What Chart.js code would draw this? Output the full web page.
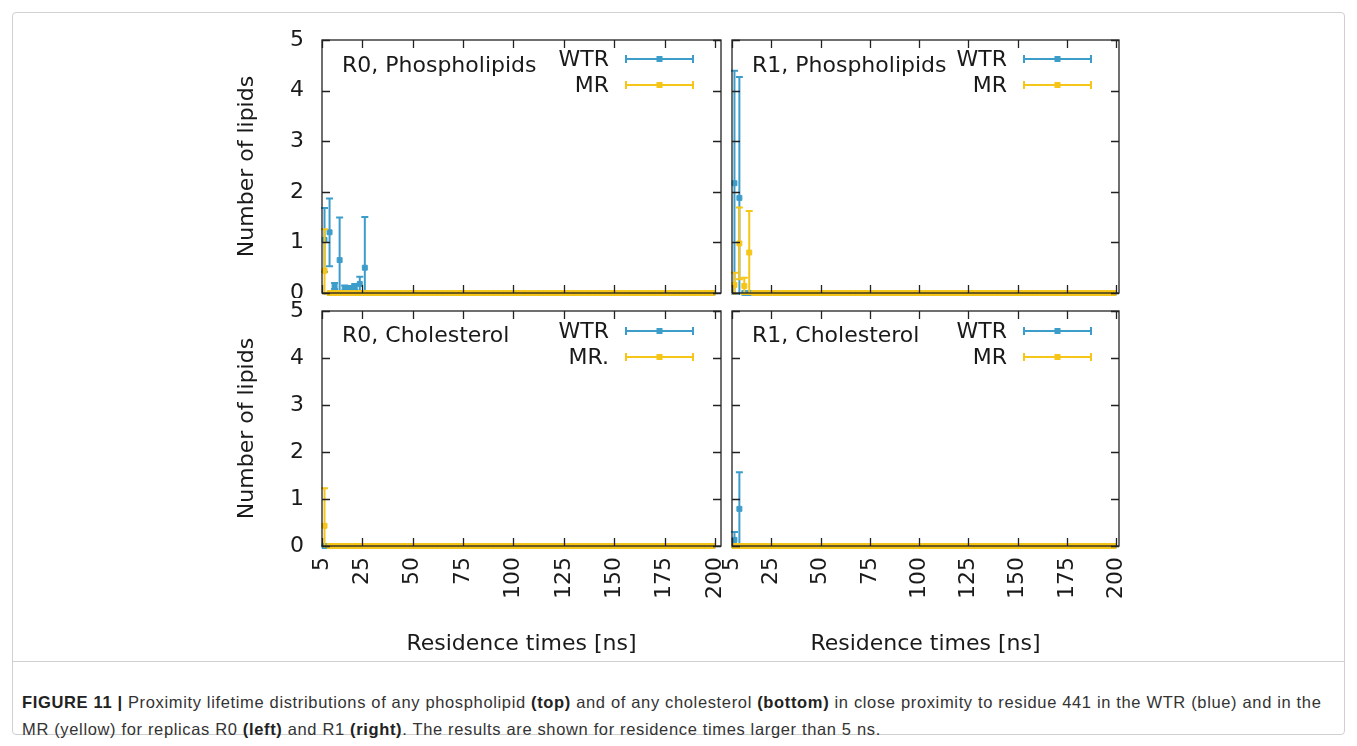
<!DOCTYPE html>
<html>
<head>
<meta charset="utf-8">
<script src="https://cdn.jsdelivr.net/npm/chart.js@4.4.0/dist/chart.umd.min.js"></script>
<style>
  html, body { margin: 0; padding: 0; background: #fff; }
  body { width: 1357px; height: 746px; position: relative; overflow: hidden; }
  #frame { position: absolute; left: 12px; top: 12px; width: 1331px; height: 721px; border: 1px solid #d0d0d0; border-radius: 4px; }
  #sep { position: absolute; left: 13px; top: 661px; width: 1331px; height: 1px; background: #d0d0d0; }
  canvas { position: absolute; }
  #caption { position: absolute; left: 22px; top: 689px; font-family: 'Liberation Sans', Arial, sans-serif; font-size: 16.5px; letter-spacing: 0.65px; line-height: 27px; color: #333; white-space: nowrap; }
  #caption b { color: #222; }
</style>
</head>
<body>
<div id="frame"></div>
<div id="sep"></div>
<canvas id="tl" width="494" height="272" style="left:232px;top:26px"></canvas>
<canvas id="tr" width="408" height="272" style="left:716px;top:26px"></canvas>
<canvas id="bl" width="494" height="363" style="left:232px;top:297px"></canvas>
<canvas id="br" width="408" height="363" style="left:716px;top:297px"></canvas>
<div id="caption"><b>FIGURE 11 |</b> Proximity lifetime distributions of any phospholipid <b>(top)</b> and of any cholesterol <b>(bottom)</b> in close proximity to residue 441 in the WTR (blue) and in the<br>MR (yellow) for replicas R0 <b>(left)</b> and R1 <b>(right)</b>. The results are shown for residence times larger than 5 ns.</div>
<script>
// ===== data =====

const xTickValues = [5, 25, 50, 75, 100, 125, 150, 175, 200];
const xTickLabels = ['5', '25', '50', '75', '100', '125', '150', '175', '200'];
const yTickValues = [0, 1, 2, 3, 4, 5];

// residence time bins [ns]
const times = [
  6.25, 8.75, 11.25, 13.75, 16.25, 18.75, 21.25, 23.75, 26.25, 28.75, 31.25, 33.75, 36.25,
  38.75, 41.25, 43.75, 46.25, 48.75, 51.25, 53.75, 56.25, 58.75, 61.25, 63.75, 66.25, 68.75,
  71.25, 73.75, 76.25, 78.75, 81.25, 83.75, 86.25, 88.75, 91.25, 93.75, 96.25, 98.75, 101.25,
  103.75, 106.25, 108.75, 111.25, 113.75, 116.25, 118.75, 121.25, 123.75, 126.25, 128.75, 131.25, 133.75,
  136.25, 138.75, 141.25, 143.75, 146.25, 148.75, 151.25, 153.75, 156.25, 158.75, 161.25, 163.75, 166.25,
  168.75, 171.25, 173.75, 176.25, 178.75, 181.25, 183.75, 186.25, 188.75, 191.25, 193.75, 196.25, 198.75
];

// R0, phospholipids
const r0PhosWTR = [
  1.05, 1.2, 0.14, 0.65, 0.1, 0.1, 0.12, 0.18, 0.5, 0, 0, 0, 0,
  0, 0, 0, 0, 0, 0, 0, 0, 0, 0, 0, 0, 0,
  0, 0, 0, 0, 0, 0, 0, 0, 0, 0, 0, 0, 0,
  0, 0, 0, 0, 0, 0, 0, 0, 0, 0, 0, 0, 0,
  0, 0, 0, 0, 0, 0, 0, 0, 0, 0, 0, 0, 0,
  0, 0, 0, 0, 0, 0, 0, 0, 0, 0, 0, 0, 0
];
const r0PhosWTRErr = [
  0.63, 0.67, 0.06, 0.84, 0.05, 0.04, 0.06, 0.14, 1.0, 0, 0, 0, 0,
  0, 0, 0, 0, 0, 0, 0, 0, 0, 0, 0, 0, 0,
  0, 0, 0, 0, 0, 0, 0, 0, 0, 0, 0, 0, 0,
  0, 0, 0, 0, 0, 0, 0, 0, 0, 0, 0, 0, 0,
  0, 0, 0, 0, 0, 0, 0, 0, 0, 0, 0, 0, 0,
  0, 0, 0, 0, 0, 0, 0, 0, 0, 0, 0, 0, 0
];
const r0PhosMR = [
  0.44, 0, 0, 0, 0, 0, 0, 0, 0, 0, 0, 0, 0,
  0, 0, 0, 0, 0, 0, 0, 0, 0, 0, 0, 0, 0,
  0, 0, 0, 0, 0, 0, 0, 0, 0, 0, 0, 0, 0,
  0, 0, 0, 0, 0, 0, 0, 0, 0, 0, 0, 0, 0,
  0, 0, 0, 0, 0, 0, 0, 0, 0, 0, 0, 0, 0,
  0, 0, 0, 0, 0, 0, 0, 0, 0, 0, 0, 0, 0
];
const r0PhosMRErr = [
  0.82, 0, 0, 0, 0, 0, 0, 0, 0, 0, 0, 0, 0,
  0, 0, 0, 0, 0, 0, 0, 0, 0, 0, 0, 0, 0,
  0, 0, 0, 0, 0, 0, 0, 0, 0, 0, 0, 0, 0,
  0, 0, 0, 0, 0, 0, 0, 0, 0, 0, 0, 0, 0,
  0, 0, 0, 0, 0, 0, 0, 0, 0, 0, 0, 0, 0,
  0, 0, 0, 0, 0, 0, 0, 0, 0, 0, 0, 0, 0
];

// R1, phospholipids
const r1PhosWTR = [
  2.17, 1.88, 0, 0, 0, 0, 0, 0, 0, 0, 0, 0, 0,
  0, 0, 0, 0, 0, 0, 0, 0, 0, 0, 0, 0, 0,
  0, 0, 0, 0, 0, 0, 0, 0, 0, 0, 0, 0, 0,
  0, 0, 0, 0, 0, 0, 0, 0, 0, 0, 0, 0, 0,
  0, 0, 0, 0, 0, 0, 0, 0, 0, 0, 0, 0, 0,
  0, 0, 0, 0, 0, 0, 0, 0, 0, 0, 0, 0, 0
];
const r1PhosWTRErr = [
  2.22, 2.39, 0, 0, 0, 0, 0, 0, 0, 0, 0, 0, 0,
  0, 0, 0, 0, 0, 0, 0, 0, 0, 0, 0, 0, 0,
  0, 0, 0, 0, 0, 0, 0, 0, 0, 0, 0, 0, 0,
  0, 0, 0, 0, 0, 0, 0, 0, 0, 0, 0, 0, 0,
  0, 0, 0, 0, 0, 0, 0, 0, 0, 0, 0, 0, 0,
  0, 0, 0, 0, 0, 0, 0, 0, 0, 0, 0, 0, 0
];
const r1PhosMR = [
  0.16, 0.98, 0.14, 0.8, 0, 0, 0, 0, 0, 0, 0, 0, 0,
  0, 0, 0, 0, 0, 0, 0, 0, 0, 0, 0, 0, 0,
  0, 0, 0, 0, 0, 0, 0, 0, 0, 0, 0, 0, 0,
  0, 0, 0, 0, 0, 0, 0, 0, 0, 0, 0, 0, 0,
  0, 0, 0, 0, 0, 0, 0, 0, 0, 0, 0, 0, 0,
  0, 0, 0, 0, 0, 0, 0, 0, 0, 0, 0, 0, 0
];
const r1PhosMRErr = [
  0.24, 0.71, 0.16, 0.82, 0, 0, 0, 0, 0, 0, 0, 0, 0,
  0, 0, 0, 0, 0, 0, 0, 0, 0, 0, 0, 0, 0,
  0, 0, 0, 0, 0, 0, 0, 0, 0, 0, 0, 0, 0,
  0, 0, 0, 0, 0, 0, 0, 0, 0, 0, 0, 0, 0,
  0, 0, 0, 0, 0, 0, 0, 0, 0, 0, 0, 0, 0,
  0, 0, 0, 0, 0, 0, 0, 0, 0, 0, 0, 0, 0
];

// R0, cholesterol
const r0CholWTR = [
  0, 0, 0, 0, 0, 0, 0, 0, 0, 0, 0, 0, 0,
  0, 0, 0, 0, 0, 0, 0, 0, 0, 0, 0, 0, 0,
  0, 0, 0, 0, 0, 0, 0, 0, 0, 0, 0, 0, 0,
  0, 0, 0, 0, 0, 0, 0, 0, 0, 0, 0, 0, 0,
  0, 0, 0, 0, 0, 0, 0, 0, 0, 0, 0, 0, 0,
  0, 0, 0, 0, 0, 0, 0, 0, 0, 0, 0, 0, 0
];
const r0CholWTRErr = [
  0, 0, 0, 0, 0, 0, 0, 0, 0, 0, 0, 0, 0,
  0, 0, 0, 0, 0, 0, 0, 0, 0, 0, 0, 0, 0,
  0, 0, 0, 0, 0, 0, 0, 0, 0, 0, 0, 0, 0,
  0, 0, 0, 0, 0, 0, 0, 0, 0, 0, 0, 0, 0,
  0, 0, 0, 0, 0, 0, 0, 0, 0, 0, 0, 0, 0,
  0, 0, 0, 0, 0, 0, 0, 0, 0, 0, 0, 0, 0
];
const r0CholMR = [
  0.43, 0, 0, 0, 0, 0, 0, 0, 0, 0, 0, 0, 0,
  0, 0, 0, 0, 0, 0, 0, 0, 0, 0, 0, 0, 0,
  0, 0, 0, 0, 0, 0, 0, 0, 0, 0, 0, 0, 0,
  0, 0, 0, 0, 0, 0, 0, 0, 0, 0, 0, 0, 0,
  0, 0, 0, 0, 0, 0, 0, 0, 0, 0, 0, 0, 0,
  0, 0, 0, 0, 0, 0, 0, 0, 0, 0, 0, 0, 0
];
const r0CholMRErr = [
  0.8, 0, 0, 0, 0, 0, 0, 0, 0, 0, 0, 0, 0,
  0, 0, 0, 0, 0, 0, 0, 0, 0, 0, 0, 0, 0,
  0, 0, 0, 0, 0, 0, 0, 0, 0, 0, 0, 0, 0,
  0, 0, 0, 0, 0, 0, 0, 0, 0, 0, 0, 0, 0,
  0, 0, 0, 0, 0, 0, 0, 0, 0, 0, 0, 0, 0,
  0, 0, 0, 0, 0, 0, 0, 0, 0, 0, 0, 0, 0
];

// R1, cholesterol
const r1CholWTR = [
  0.13, 0.79, 0, 0, 0, 0, 0, 0, 0, 0, 0, 0, 0,
  0, 0, 0, 0, 0, 0, 0, 0, 0, 0, 0, 0, 0,
  0, 0, 0, 0, 0, 0, 0, 0, 0, 0, 0, 0, 0,
  0, 0, 0, 0, 0, 0, 0, 0, 0, 0, 0, 0, 0,
  0, 0, 0, 0, 0, 0, 0, 0, 0, 0, 0, 0, 0,
  0, 0, 0, 0, 0, 0, 0, 0, 0, 0, 0, 0, 0
];
const r1CholWTRErr = [
  0.17, 0.78, 0, 0, 0, 0, 0, 0, 0, 0, 0, 0, 0,
  0, 0, 0, 0, 0, 0, 0, 0, 0, 0, 0, 0, 0,
  0, 0, 0, 0, 0, 0, 0, 0, 0, 0, 0, 0, 0,
  0, 0, 0, 0, 0, 0, 0, 0, 0, 0, 0, 0, 0,
  0, 0, 0, 0, 0, 0, 0, 0, 0, 0, 0, 0, 0,
  0, 0, 0, 0, 0, 0, 0, 0, 0, 0, 0, 0, 0
];
const r1CholMR = [
  0, 0, 0, 0, 0, 0, 0, 0, 0, 0, 0, 0, 0,
  0, 0, 0, 0, 0, 0, 0, 0, 0, 0, 0, 0, 0,
  0, 0, 0, 0, 0, 0, 0, 0, 0, 0, 0, 0, 0,
  0, 0, 0, 0, 0, 0, 0, 0, 0, 0, 0, 0, 0,
  0, 0, 0, 0, 0, 0, 0, 0, 0, 0, 0, 0, 0,
  0, 0, 0, 0, 0, 0, 0, 0, 0, 0, 0, 0, 0
];
const r1CholMRErr = [
  0, 0, 0, 0, 0, 0, 0, 0, 0, 0, 0, 0, 0,
  0, 0, 0, 0, 0, 0, 0, 0, 0, 0, 0, 0, 0,
  0, 0, 0, 0, 0, 0, 0, 0, 0, 0, 0, 0, 0,
  0, 0, 0, 0, 0, 0, 0, 0, 0, 0, 0, 0, 0,
  0, 0, 0, 0, 0, 0, 0, 0, 0, 0, 0, 0, 0,
  0, 0, 0, 0, 0, 0, 0, 0, 0, 0, 0, 0, 0
];

// ===== look =====

const BLUE = '#3d9dca';
const YELLOW = '#f5c518';
const INK = '#1a1a1a';
const FONT = { family: 'DejaVu Sans', size: 22 };
const FONT_CSS = '22px "DejaVu Sans"';

// gnuplot style: y error bars with end caps, clipped to the plot box
const errorBars = {
  id: 'errorBars',
  beforeDatasetDraw(chart, args) {
    const ds = chart.data.datasets[args.index];
    if (!ds.errors) return;
    const { ctx, chartArea: a, scales: { x, y } } = chart;
    ctx.save();
    ctx.beginPath();
    ctx.rect(a.left - 4, a.top - 1, a.right - a.left + 8, a.bottom - a.top + 3);
    ctx.clip();
    ctx.strokeStyle = ds.borderColor;
    ctx.lineWidth = 2;
    ds.data.forEach((p, i) => {
      const e = ds.errors[i];
      const px = x.getPixelForValue(p.x);
      const lo = y.getPixelForValue(p.y - e);
      const hi = y.getPixelForValue(p.y + e);
      ctx.beginPath();
      ctx.moveTo(px, lo); ctx.lineTo(px, hi);
      ctx.moveTo(px - 3.5, lo); ctx.lineTo(px + 3.5, lo);
      ctx.moveTo(px - 3.5, hi); ctx.lineTo(px + 3.5, hi);
      ctx.stroke();
    });
    ctx.restore();
  }
};

// plot box with inward ticks on every side, drawn over the data
const frame = {
  id: 'frame',
  afterDatasetsDraw(chart) {
    const { ctx, chartArea: a, scales: { x, y } } = chart;
    ctx.save();
    ctx.strokeStyle = '#222';
    ctx.lineWidth = 1.3;
    ctx.strokeRect(a.left, a.top, a.right - a.left, a.bottom - a.top);
    ctx.beginPath();
    xTickValues.forEach(v => {
      const px = Math.round(x.getPixelForValue(v)) + 0.5;
      ctx.moveTo(px, a.bottom); ctx.lineTo(px, a.bottom - 8);
      ctx.moveTo(px, a.top); ctx.lineTo(px, a.top + 8);
    });
    yTickValues.forEach(v => {
      const py = Math.round(y.getPixelForValue(v)) + 0.5;
      ctx.moveTo(a.left, py); ctx.lineTo(a.left + 8, py);
      ctx.moveTo(a.right, py); ctx.lineTo(a.right - 8, py);
    });
    ctx.stroke();
    ctx.restore();
  }
};

// panel title (top left) and key (top right)
const panelText = {
  id: 'panelText',
  afterDraw(chart, args, opts) {
    const { ctx, chartArea: a } = chart;
    ctx.save();
    ctx.font = FONT_CSS;
    ctx.fillStyle = INK;
    ctx.textBaseline = 'middle';
    ctx.textAlign = 'left';
    ctx.fillText(opts.title, a.left + 20, a.top + opts.titleY);
    chart.data.datasets.forEach((ds, i) => {
      const ky = a.top + opts.keyY[i];
      ctx.textAlign = 'right';
      ctx.fillStyle = INK;
      ctx.fillText(ds.label, a.right - 112, ky + 1);
      const x1 = a.right - 95, x2 = a.right - 28, xm = (x1 + x2) / 2;
      ctx.strokeStyle = ds.borderColor;
      ctx.lineWidth = 2;
      ctx.beginPath();
      ctx.moveTo(x1, ky); ctx.lineTo(x2, ky);
      ctx.moveTo(x1, ky - 4); ctx.lineTo(x1, ky + 4);
      ctx.moveTo(x2, ky - 4); ctx.lineTo(x2, ky + 4);
      ctx.stroke();
      ctx.fillStyle = ds.borderColor;
      ctx.fillRect(xm - 3, ky - 3, 6, 6);
    });
    ctx.restore();
  }
};

// order: MR (drawn last) sits on top of WTR, as in the original
function series(label, values, errors, color, order) {
  return {
    label,
    data: times.map((t, i) => ({ x: t, y: values[i] })),
    errors,
    order,
    showLine: false,
    pointStyle: 'rect',
    pointRadius: 3.5,
    pointBorderWidth: 1,
    backgroundColor: color,
    borderColor: color,
    clip: 6,
  };
}

function makePanel(id, opts) {
  const canvas = document.getElementById(id);
  return new Chart(canvas, {
    type: 'scatter',
    data: { datasets: opts.datasets },
    plugins: [errorBars, frame, panelText],
    options: {
      responsive: false,
      animation: false,
      devicePixelRatio: 1,
      layout: { padding: { top: opts.padTop, right: 4, bottom: opts.showX ? 0 : 4, left: opts.showY ? 0 : 16 } },
      plugins: {
        legend: { display: false },
        tooltip: { enabled: false },
        panelText: { title: opts.title, titleY: opts.titleY, keyY: opts.keyY },
      },
      scales: {
        x: {
          type: 'linear',
          min: 5,
          max: opts.xMax,
          afterBuildTicks: s => { s.ticks = xTickValues.map(v => ({ value: v })); },
          afterFit: s => { s.height = opts.showX ? 114 : 0; s.paddingLeft = 0; s.paddingRight = 0; },
          ticks: {
            display: opts.showX,
            autoSkip: false,
            minRotation: 90,
            maxRotation: 90,
            padding: 11,
            color: INK,
            font: FONT,
            callback: (v, i) => xTickLabels[i],
          },
          grid: { display: false, drawTicks: false },
          border: { display: false },
          title: { display: opts.showX, text: 'Residence times [ns]', color: INK, font: FONT, padding: { top: 4, bottom: 3 } },
        },
        y: {
          min: 0,
          max: 5,
          afterBuildTicks: s => { s.ticks = yTickValues.map(v => ({ value: v })); },
          afterFit: s => { s.width = opts.showY ? 90 : 0; s.paddingTop = 0; s.paddingBottom = 0; },
          ticks: { display: opts.showY, padding: 18, color: INK, font: FONT },
          grid: { display: false, drawTicks: false },
          border: { display: false },
          title: { display: opts.showY, text: 'Number of lipids', color: INK, font: FONT, padding: { top: 2, bottom: 4 } },
        },
      },
    },
  });
}

makePanel('tl', {
  title: 'R0, Phospholipids', titleY: 26, keyY: [19, 45], padTop: 14, showX: false, showY: true, xMax: 203,
  datasets: [series('WTR', r0PhosWTR, r0PhosWTRErr, BLUE, 1), series('MR', r0PhosMR, r0PhosMRErr, YELLOW, 0)],
});
makePanel('tr', {
  title: 'R1, Phospholipids', titleY: 26, keyY: [19, 45], padTop: 14, showX: false, showY: false, xMax: 201.5,
  datasets: [series('WTR', r1PhosWTR, r1PhosWTRErr, BLUE, 1), series('MR', r1PhosMR, r1PhosMRErr, YELLOW, 0)],
});
makePanel('bl', {
  title: 'R0, Cholesterol', titleY: 25, keyY: [20, 46], padTop: 14, showX: true, showY: true, xMax: 203,
  datasets: [series('WTR', r0CholWTR, r0CholWTRErr, BLUE, 1), series('MR.', r0CholMR, r0CholMRErr, YELLOW, 0)],
});
makePanel('br', {
  title: 'R1, Cholesterol', titleY: 25, keyY: [20, 46], padTop: 14, showX: true, showY: false, xMax: 201.5,
  datasets: [series('WTR', r1CholWTR, r1CholWTRErr, BLUE, 1), series('MR', r1CholMR, r1CholMRErr, YELLOW, 0)],
});
</script>
</body>
</html>
